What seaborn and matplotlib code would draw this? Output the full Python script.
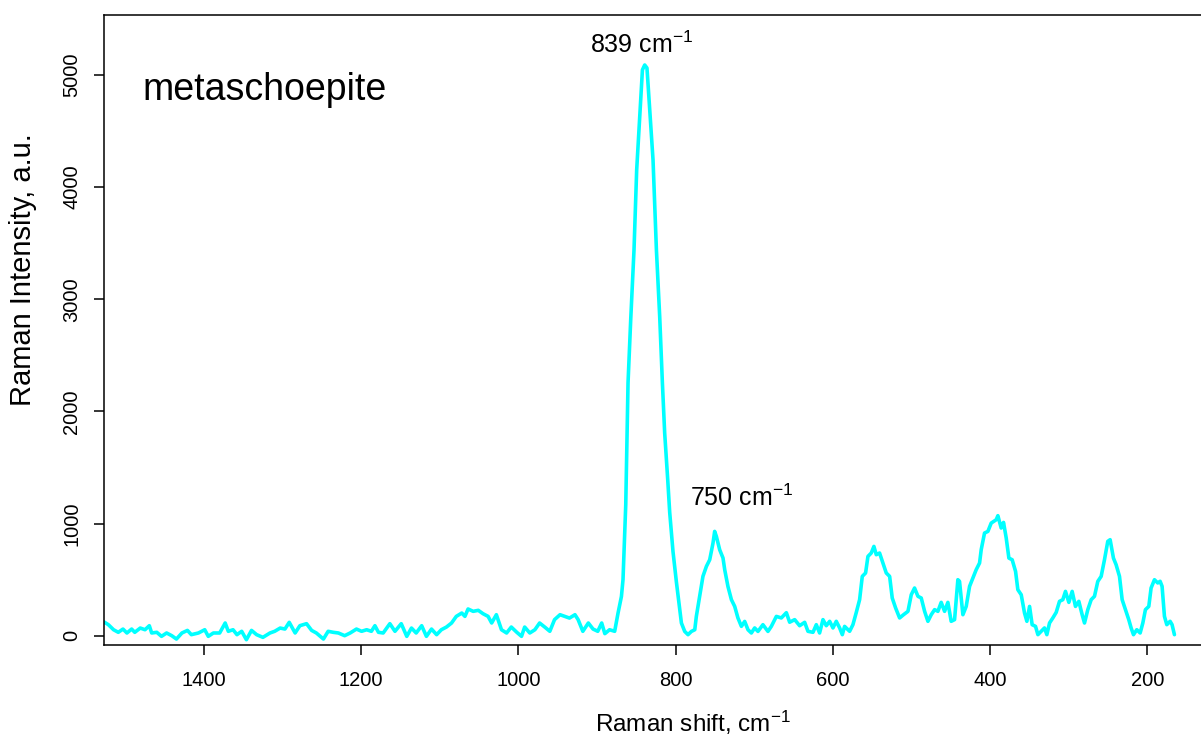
import matplotlib
matplotlib.use("Agg")
import numpy as np
import pandas as pd
import matplotlib.pyplot as plt
import seaborn as sns

# ---- data (Raman shift in cm-1, intensity in a.u.) ----
raman_shift = [
    1527, 1521.6, 1515, 1509, 1503, 1498, 1492, 1488, 1481, 1475, 1469.5, 1466.5, 1460, 1454,
    1447.5, 1441, 1435, 1428, 1421, 1416, 1407, 1399, 1394.5, 1388, 1380, 1373, 1369, 1363,
    1358, 1352, 1346, 1339.5, 1333, 1325, 1316, 1310, 1303, 1297, 1291.5, 1284, 1278, 1269.5,
    1263, 1257, 1248, 1242, 1235.5, 1229, 1221, 1214, 1206, 1199.5, 1193, 1187, 1182.5, 1178,
    1172, 1163.5, 1157, 1149, 1142, 1136, 1130, 1123, 1117, 1110.5, 1104, 1098, 1091.5, 1085,
    1079, 1072, 1068, 1064, 1057.5, 1051, 1045, 1038.5, 1034, 1028, 1021.5, 1015, 1009, 1002,
    996, 992, 985.5, 979, 973, 966.5, 960, 954, 947, 941, 935, 928, 924, 918, 911, 905, 899,
    894, 890, 884, 877.5, 873.2, 868.9, 866.9, 865.3, 863.4, 860.5, 857.1, 852.9, 849.5, 845.6,
    842.2, 839.3, 836.4, 832.9, 828.7, 824.4, 820.2, 816.8, 813.9, 810, 807.5, 803.3, 799,
    795.7, 792.6, 788.4, 784.2, 779.9, 775.6, 773.6, 769.4, 765.2, 760.8, 756.6, 752.4, 750.3,
    748.1, 743.9, 739.7, 737.5, 733.4, 729, 724.8, 720.7, 716.3, 712.1, 707.9, 703.6, 699.4,
    695.2, 688.9, 682.5, 678.2, 671.8, 665.5, 659.1, 654.9, 648.5, 642.2, 635.8, 631.6, 625.2,
    621, 616.8, 612.5, 608.3, 604, 599.8, 595.6, 591.3, 587.9, 585, 578.6, 574.4, 570.1, 565.9,
    562.5, 558.3, 555.3, 551.1, 547.7, 544.7, 540.5, 536.2, 532, 527.7, 524.4, 520.1, 515, 510,
    504.4, 500.2, 496, 491.7, 487.5, 483.2, 479, 474.8, 470.5, 466.3, 462.1, 457.8, 453.6,
    449.4, 445.1, 440.9, 438.8, 434.5, 430.3, 426, 421.8, 417.6, 413.3, 411.2, 407, 402.7,
    398.5, 392.1, 390, 385.8, 382.8, 379.4, 376, 371.8, 367.5, 364.6, 360.3, 356.1, 353.1,
    349.7, 346.4, 342.1, 339.1, 334.9, 330.7, 327.7, 324.3, 320.1, 315.8, 311.6, 307.4, 304,
    299.7, 295.5, 291.3, 287, 282.8, 279.8, 275.6, 271.3, 267.1, 262.9, 258.6, 254.4, 250.2,
    247.2, 243, 239.6, 235.3, 231.9, 227.7, 223.5, 220.5, 217.5, 213.3, 209, 205.6, 202.3, 198,
    195.1, 190.8, 186.6, 183.6, 181.1, 178.1, 175.1, 170.9, 168.4, 165.4,
]
intensity = [
    122, 98, 53, 30, 59, 24, 59, 30, 68, 53, 89, 24, 30, -6,
    24, 0, -30, 24, 47, 9, 24, 53, -6, 24, 24, 113, 39, 53,
    9, 39, -36, 47, 9, -15, 24, 39, 68, 59, 119, 24, 89, 107,
    47, 24, -30, 39, 30, 24, 0, 24, 59, 39, 53, 39, 89, 30,
    24, 107, 39, 107, -6, 68, 24, 89, -6, 59, 9, 53, 77, 113,
    172, 202, 172, 238, 217, 226, 196, 172, 113, 187, 53, 24, 77, 30,
    -6, 77, 24, 53, 113, 77, 39, 143, 187, 172, 157, 187, 143, 39, 113, 59, 39,
    113, 18, 53, 39, 202, 350, 499, 811, 1168, 2255, 2816, 3440, 4153, 4628,
    5045, 5089, 5062, 4688, 4242, 3440, 2843, 2255, 1809, 1390, 1100, 750, 480,
    291, 113, 38, 9, 38, 53, 172, 350, 529, 618, 677, 826, 930,
    885, 766, 693, 588, 439, 321, 261, 158, 83, 127, 53, 24, 69,
    38, 98, 38, 83, 172, 158, 205, 120, 143, 89, 119, 39, 30,
    98, 24, 143, 89, 128, 69, 128, 69, 9, 83, 39, 98, 208, 321,
    529, 559, 707, 737, 796, 722, 737, 648, 559, 529, 336, 247, 158, 187,
    217, 365, 425, 351, 336, 217, 128, 187, 232, 217, 297, 217, 297,
    128, 143, 499, 485, 187, 261, 440, 514, 588, 648, 767, 915, 930,
    1004, 1034, 1070, 960, 1010, 871, 692, 677, 573, 410, 365, 202, 128,
    261, 98, 83, 9, 39, 69, 9, 113, 158, 208, 306, 321, 395,
    297, 395, 261, 306, 187, 113, 232, 321, 351, 484, 529, 677, 841,
    856, 692, 633, 529, 321, 232, 143, 69, 9, 53, 24, 113, 232, 261,
    425, 499, 470, 485, 440, 172, 98, 128, 98, 9,
]
x_ticks = [1400, 1200, 1000, 800, 600, 400, 200]
y_ticks = [0, 1000, 2000, 3000, 4000, 5000]
sample_name = "metaschoepite"
peak_labels = ["839 cm$^{-1}$", "750 cm$^{-1}$"]
x_label = "Raman shift, cm$^{-1}$"
y_label = "Raman Intensity, a.u."

# ---- style ----
sns.set_theme(style="white")
plt.rcParams["font.family"] = ["Liberation Sans", "DejaVu Sans"]
plt.rcParams["mathtext.fontset"] = "custom"
plt.rcParams["mathtext.rm"] = "Liberation Sans"
plt.rcParams["mathtext.it"] = "Liberation Sans:italic"
plt.rcParams["mathtext.bf"] = "Liberation Sans:bold"
plt.rcParams["mathtext.default"] = "regular"
plt.rcParams["text.color"] = "black"
plt.rcParams["axes.labelcolor"] = "black"

df = pd.DataFrame({"shift": raman_shift, "intensity": intensity})

fig = plt.figure(figsize=(12.01, 7.40), dpi=100)
ax = fig.add_axes([0.0863, 0.1284, 0.9819, 0.8514])

sns.lineplot(data=df, x="shift", y="intensity", ax=ax, color="#00FFFF",
             linewidth=2.6, sort=False, estimator=None)

ax.set_xlim(1527.6, 27.4)
ax.set_ylim(-83, 5535)
ax.set_xticks(x_ticks)
ax.set_yticks(y_ticks)
ax.set_xticklabels([str(t) for t in x_ticks])
ax.set_yticklabels([str(t) for t in y_ticks], rotation=90, va="center")

for s in ax.spines.values():
    s.set_visible(True)
    s.set_color("black")
    s.set_linewidth(1.1)

ax.tick_params(axis="both", which="major", bottom=True, left=True, direction="out",
               length=7, width=1.1, color="black", labelsize=14.5, labelcolor="black")
ax.tick_params(axis="x", pad=12)
ax.tick_params(axis="y", pad=9)

ax.set_xlabel(x_label, fontsize=17.5, color="black")
ax.set_ylabel(y_label, fontsize=21, color="black")
ax.xaxis.set_label_coords(0.5, -0.124)
ax.xaxis.label.set_va("center")
ax.yaxis.set_label_coords(-0.068, 0.595)
ax.yaxis.label.set_va("center")

ax.text(1477.6, 4866, sample_name, fontsize=27, ha="left", va="center")
ax.text(843, 5267, peak_labels[0], fontsize=18, ha="center", va="center")
ax.text(716, 1230, peak_labels[1], fontsize=18, ha="center", va="center")

fig.savefig("out.png", dpi=100)
